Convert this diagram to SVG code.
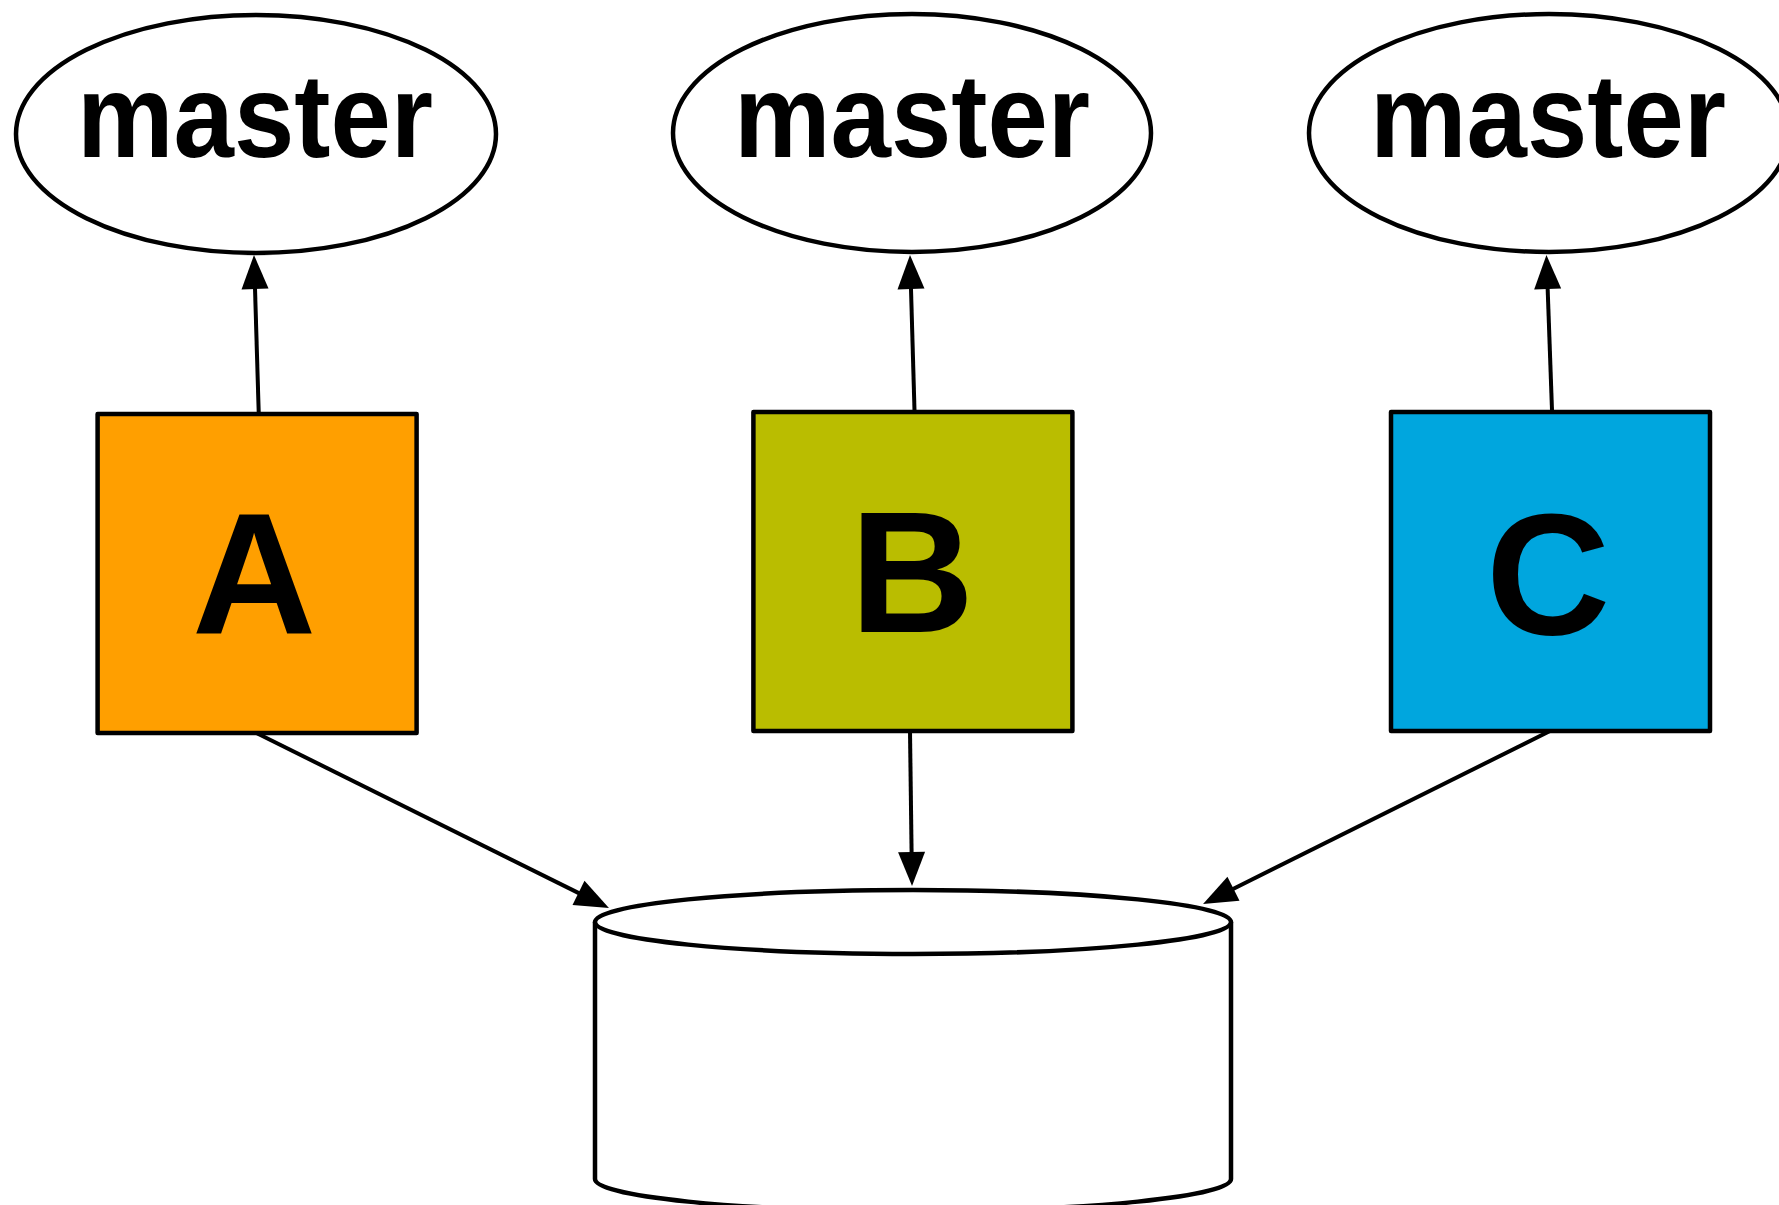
<svg xmlns="http://www.w3.org/2000/svg" width="1779" height="1205" viewBox="0 0 1779 1205">
<style>
.shape{stroke:#000;stroke-width:4.5;stroke-linejoin:round}
.lbl{font-family:"Liberation Sans",Arial,sans-serif;font-weight:bold;fill:#000;text-anchor:middle}
.m{font-size:118px}
.big{font-size:172px}
.edge{stroke:#000;stroke-width:4;fill:none;marker-end:url(#arr)}
</style>
<defs>
<marker id="arr" markerUnits="userSpaceOnUse" viewBox="-26 -15 38 30" markerWidth="38" markerHeight="30" refX="0" refY="0" orient="auto">
<path d="M10,0 L-24,-13.5 L-24,13.5 Z" fill="#000"/>
</marker>
</defs>
<rect width="1779" height="1205" fill="#fff"/>
<g id="connectors">
<line class="edge" x1="258.7" y1="412" x2="254.3" y2="265"/>
<line class="edge" x1="914.5" y1="410" x2="910.3" y2="265"/>
<line class="edge" x1="1552" y1="410" x2="1546.8" y2="265"/>
<line class="edge" x1="256.4" y1="733" x2="600" y2="903.6"/>
<line class="edge" x1="910" y1="731" x2="911.9" y2="876"/>
<line class="edge" x1="1550" y1="731" x2="1212" y2="899.5"/>
</g>
<g id="master1">
<ellipse class="shape" cx="256" cy="134" rx="240" ry="119" fill="#fff"/>
<text class="lbl m" x="255" y="157" textLength="356" lengthAdjust="spacingAndGlyphs">master</text>
</g>
<g id="master2">
<ellipse class="shape" cx="912" cy="133" rx="239" ry="119" fill="#fff"/>
<text class="lbl m" x="912" y="157" textLength="356" lengthAdjust="spacingAndGlyphs">master</text>
</g>
<g id="master3">
<ellipse class="shape" cx="1549" cy="133" rx="240" ry="119" fill="#fff"/>
<text class="lbl m" x="1548" y="157" textLength="356" lengthAdjust="spacingAndGlyphs">master</text>
</g>
<g id="nodeA">
<rect class="shape" x="97.6" y="414" width="319" height="319" fill="#FF9F00"/>
<text class="lbl big" x="254" y="633">A</text>
</g>
<g id="nodeB">
<rect class="shape" x="753.4" y="412" width="319" height="319" fill="#BABD00"/>
<text class="lbl big" x="912" y="632">B</text>
</g>
<g id="nodeC">
<rect class="shape" x="1391" y="412" width="319" height="319" fill="#00A6DE"/>
<text class="lbl big" x="1548" y="634">C</text>
</g>
<g id="repository">
<path class="shape" d="M595,922 L595,1179 A318,32 0 0 0 1231,1179 L1231,922" fill="#fff"/>
<ellipse class="shape" cx="913" cy="922" rx="318" ry="32" fill="#fff"/>
</g>
</svg>
